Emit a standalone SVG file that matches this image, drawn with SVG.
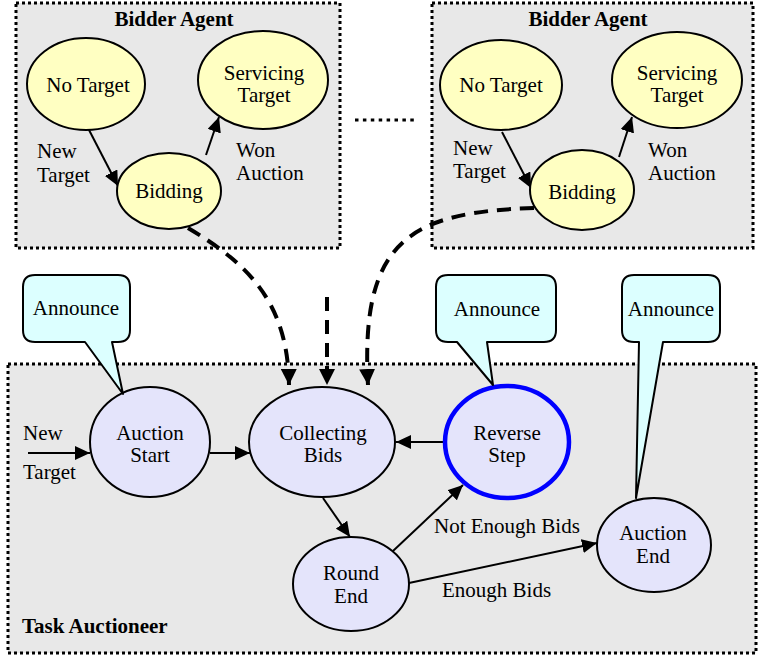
<svg xmlns="http://www.w3.org/2000/svg" width="758" height="659" viewBox="0 0 758 659">
<defs>
<style>
text{font-family:"Liberation Serif","DejaVu Serif",serif;font-size:21px;fill:#000}
.b{font-weight:bold}
.m{text-anchor:middle}
.box{fill:#e8e8e8;stroke:#000;stroke-width:3;stroke-dasharray:3 3}
.y{fill:#ffffc2;stroke:#000;stroke-width:2}
.l{fill:#e4e4fb;stroke:#000;stroke-width:2}
.call{fill:#dcffff;stroke:#000;stroke-width:2;stroke-linejoin:round}
.e{fill:none;stroke:#000;stroke-width:2;marker-end:url(#ah)}
.d{fill:none;stroke:#000;stroke-width:4;stroke-dasharray:14 9;marker-end:url(#ahd)}
</style>
<marker id="ah" markerUnits="userSpaceOnUse" markerWidth="16" markerHeight="14" refX="15" refY="7" orient="auto" viewBox="0 0 16 14">
<path d="M0,0 L15,7 L0,14 Z" fill="#000"/>
</marker>
<marker id="ahd" markerUnits="userSpaceOnUse" markerWidth="17" markerHeight="16" refX="16" refY="8" orient="auto" viewBox="0 0 17 16">
<path d="M0,0 L16,8 L0,16 Z" fill="#000"/>
</marker>
</defs>
<rect width="758" height="659" fill="#fff"/>

<g id="bidder-left">
<rect class="box" x="16" y="3" width="324" height="245"/>
<text class="b m" x="174" y="26">Bidder Agent</text>
</g>
<g id="bidder-right">
<rect class="box" x="432" y="3" width="321" height="245"/>
<text class="b m" x="588" y="26">Bidder Agent</text>
</g>
<g id="auctioneer">
<rect class="box" x="8" y="364" width="748" height="289"/>
<text class="b" x="22" y="633">Task Auctioneer</text>
</g>
<g id="ellipsis">
<line x1="355" y1="120" x2="415" y2="120" stroke="#000" stroke-width="3" stroke-dasharray="3.5 4.4"/>
</g>

<g id="connectors">
<path class="e" d="M88,128 L118,186"/>
<path class="e" d="M206,155 L219,117"/>
<text x="37" y="158">New</text>
<text x="37" y="182">Target</text>
<text x="236" y="157">Won</text>
<text x="236" y="180">Auction</text>

<path class="e" d="M502,132 L531,188"/>
<path class="e" d="M619,157 L632,117"/>
<text x="453" y="155">New</text>
<text x="453" y="178">Target</text>
<text x="648" y="157">Won</text>
<text x="648" y="180">Auction</text>

<path class="d" d="M188,228 C245,262 288,300 289,385"/>
<path class="d" d="M327,297 L327,385"/>
<path class="d" d="M534,208 C410,212 360,240 368,385"/>

<path class="e" d="M28,453 L90,453"/>
<text x="23" y="440">New</text>
<text x="23" y="479">Target</text>
<path class="e" d="M210,453 L250,453"/>
<path class="e" d="M444,442 L396,442"/>
<path class="e" d="M323,498 L350,537"/>
<path class="e" d="M393,551 L463,485"/>
<text x="434" y="533">Not Enough Bids</text>
<path class="e" d="M409,583 L597,543"/>
<text x="442" y="597">Enough Bids</text>
</g>

<g id="no-target-left">
<ellipse class="y" cx="86" cy="84" rx="59" ry="46"/>
<text class="m" x="88" y="92">No Target</text>
</g>
<g id="servicing-left">
<ellipse class="y" cx="263" cy="80" rx="65" ry="49"/>
<text class="m" x="264" y="80">Servicing</text>
<text class="m" x="264" y="102">Target</text>
</g>
<g id="bidding-left">
<ellipse class="y" cx="169" cy="191" rx="52" ry="38"/>
<text class="m" x="169" y="198">Bidding</text>
</g>

<g id="no-target-right">
<ellipse class="y" cx="501" cy="85" rx="61" ry="45"/>
<text class="m" x="501" y="92">No Target</text>
</g>
<g id="servicing-right">
<ellipse class="y" cx="677" cy="80" rx="65" ry="48"/>
<text class="m" x="677" y="80">Servicing</text>
<text class="m" x="677" y="102">Target</text>
</g>
<g id="bidding-right">
<ellipse class="y" cx="582" cy="190" rx="52" ry="40"/>
<text class="m" x="582" y="199">Bidding</text>
</g>

<g id="auction-start">
<ellipse class="l" cx="150" cy="442" rx="60" ry="55"/>
<text class="m" x="150" y="440">Auction</text>
<text class="m" x="150" y="462">Start</text>
</g>
<g id="collecting-bids">
<ellipse class="l" cx="322" cy="442" rx="73" ry="55"/>
<text class="m" x="323" y="440">Collecting</text>
<text class="m" x="323" y="462">Bids</text>
</g>
<g id="reverse-step">
<ellipse cx="507" cy="442" rx="62" ry="56" fill="#e4e4fb" stroke="#0000ff" stroke-width="4.5"/>
<text class="m" x="507" y="440">Reverse</text>
<text class="m" x="507" y="462">Step</text>
</g>
<g id="round-end">
<ellipse class="l" cx="351" cy="584" rx="58" ry="47"/>
<text class="m" x="351" y="580">Round</text>
<text class="m" x="351" y="603">End</text>
</g>
<g id="auction-end">
<ellipse class="l" cx="654" cy="545" rx="57" ry="47"/>
<text class="m" x="653" y="540">Auction</text>
<text class="m" x="653" y="563">End</text>
</g>

<g id="announce-1">
<path class="call" d="M35,275 H118 Q130,275 130,287 V330 Q130,342 118,342 H112 L123,394 L85,342 H35 Q23,342 23,330 V287 Q23,275 35,275 Z"/>
<text class="m" x="76" y="315">Announce</text>
</g>
<g id="announce-2">
<path class="call" d="M448,275 H544 Q556,275 556,287 V330 Q556,342 544,342 H487 L493,385 L457,342 H448 Q436,342 436,330 V287 Q436,275 448,275 Z"/>
<text class="m" x="497" y="316">Announce</text>
</g>
<g id="announce-3">
<path class="call" d="M634,275 H708 Q720,275 720,287 V330 Q720,342 708,342 H663 L636,498 L639,342 H634 Q622,342 622,330 V287 Q622,275 634,275 Z"/>
<text class="m" x="671" y="316">Announce</text>
</g>
</svg>
